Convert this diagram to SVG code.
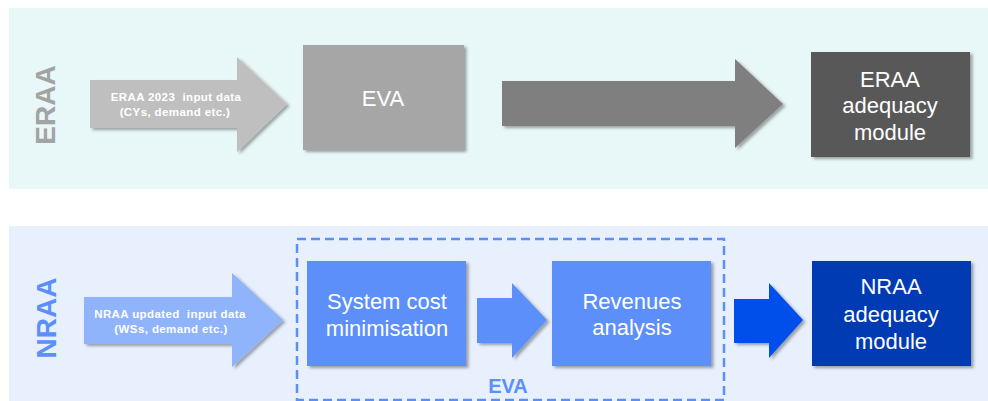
<svg xmlns="http://www.w3.org/2000/svg" width="988" height="401" viewBox="0 0 988 401">
  <defs>
    <filter id="shadow" x="-10%" y="-10%" width="125%" height="130%">
      <feDropShadow dx="2.5" dy="2" stdDeviation="1.6" flood-color="#000" flood-opacity="0.35"/>
    </filter>
  </defs>
  <style>
    text { font-family: "Liberation Sans", Arial, sans-serif; text-anchor: middle; }
    .box { filter: url(#shadow); }
    .big { font-size: 22px; fill: #ffffff; }
    .small { font-size: 11.5px; font-weight: bold; fill: #ffffff; letter-spacing: 0.4px; white-space: pre; }
    .side { font-size: 28px; font-weight: bold; }
  </style>

  <!-- band backgrounds -->
  <rect x="9" y="8" width="979" height="181" fill="#e8f7f7"/>
  <rect x="9" y="226" width="979" height="175" fill="#e8f0fd"/>

  <!-- band titles -->
  <text class="side" transform="translate(55,105) rotate(-90)" fill="#a3a3a3">ERAA</text>
  <text class="side" transform="translate(56,318) rotate(-90)" fill="#5b8ff9">NRAA</text>

  <!-- top row -->
  <g id="eraa-input">
    <path class="box" d="M90,80 H237 V57 L287,104 L237,152 V128 H90 Z" fill="#bfbfbf"/>
    <text class="small" x="176" y="101" xml:space="preserve">ERAA 2023  input data</text>
    <text class="small" x="175" y="116">(CYs, demand etc.)</text>
  </g>
  <g id="eva-top">
    <rect class="box" x="303" y="45" width="161" height="105" fill="#a6a6a6"/>
    <text class="big" x="383" y="106">EVA</text>
  </g>
  <g id="eraa-module">
    <rect class="box" x="811" y="52" width="159" height="105" fill="#595959"/>
    <text class="big" x="890" y="87">ERAA</text>
    <text class="big" x="890" y="113">adequacy</text>
    <text class="big" x="890" y="140">module</text>
  </g>

  <!-- bottom row -->
  <g id="nraa-input">
    <path class="box" d="M84,297 H232 V273 L283,320 L232,367 V344 H84 Z" fill="#8fb4fb"/>
    <text class="small" x="170" y="318" xml:space="preserve">NRAA updated  input data</text>
    <text class="small" x="171" y="333">(WSs, demand etc.)</text>
  </g>
  <g id="eva-group">
    <rect x="297" y="239" width="427" height="161" fill="none" stroke="#5b8ff9" stroke-width="2.5" stroke-dasharray="9,5"/>
    <text x="508" y="393" font-size="20" font-weight="bold" fill="#5b8ff9">EVA</text>
  </g>
  <g id="system-cost">
    <rect class="box" x="307" y="261" width="159" height="105" fill="#5b8ff9"/>
    <text class="big" x="387" y="309">System cost</text>
    <text class="big" x="387" y="336">minimisation</text>
  </g>
  <g id="revenues">
    <rect class="box" x="552" y="261" width="159" height="105" fill="#5b8ff9"/>
    <text class="big" x="632" y="309">Revenues</text>
    <text class="big" x="632" y="335">analysis</text>
  </g>
  <g id="nraa-module">
    <rect class="box" x="812" y="261" width="159" height="105" fill="#003bb3"/>
    <text class="big" x="891" y="294">NRAA</text>
    <text class="big" x="891" y="322">adequacy</text>
    <text class="big" x="891" y="349">module</text>
  </g>

  <!-- connectors -->
  <g id="connectors">
    <path class="box" d="M502,81 H735 V59 L783,104 L735,148 V126 H502 Z" fill="#7f7f7f"/>
    <path class="box" d="M477,298 H512 V283 L547,320 L512,358 V343 H477 Z" fill="#5b8ff9"/>
    <path class="box" d="M734,299 H769 V283 L803,320 L769,358 V343 H734 Z" fill="#0050ea"/>
  </g>
</svg>
